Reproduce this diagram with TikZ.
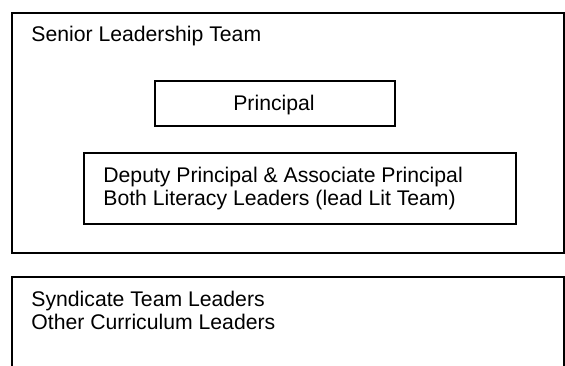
\documentclass[tikz,border=0pt]{standalone}
\usepackage{fontspec}
\setmainfont{Liberation Sans}
\tikzset{
  box/.style={draw, line width=0.9pt, anchor=north west, inner sep=0pt},
  txt/.style={anchor=base west, align=left, inner sep=0pt,
    font=\fontsize{10.6}{11.4}\selectfont}
}

\begin{document}
\begin{tikzpicture}[x=0.5pt, y=-0.5pt]
\clip (0,0) rectangle (565,365);
% senior leadership team
\node[box, minimum width=276pt, minimum height=120pt] (slt) at (11,12) {};
\node[txt] (sltname) at (31,41) {Senior Leadership Team};
\node[box, minimum width=120pt, minimum height=22.5pt] (princ) at (154,80) {};
\node[txt, anchor=base] (princname) at (274,110) {Principal};
\node[box, minimum width=216pt, minimum height=35.5pt] (deputy) at (83,152) {};
\node[txt] (deputyname) at (103,205) {Deputy Principal \& Associate Principal\\Both Literacy Leaders (lead Lit Team)};
% second team
\node[box, minimum width=276pt, minimum height=60pt] (synd) at (11,276) {};
\node[txt] (syndname) at (31,329) {Syndicate Team Leaders\\Other Curriculum Leaders};
\end{tikzpicture}
\end{document}
